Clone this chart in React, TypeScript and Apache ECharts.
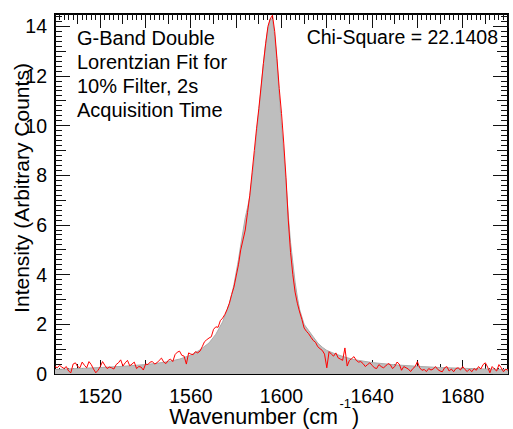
import React, { useEffect, useRef } from "react";
import * as echarts from "echarts";

// Measured spectrum: one value per wavenumber, starting at 1500 cm^-1, step 1
const measuredStart = 1500;
const measuredIntensity = [
  0.30, 0.25, 0.35, 0.28, 0.22, 0.30, 0.12, 0.05, 0.40, 0.45,
  0.30, 0.25, 0.48, 0.35, 0.25, 0.50, 0.38, 0.20, 0.05, 0.15,
  0.30, 0.50, 0.35, 0.22, 0.28, 0.25, 0.20, 0.38, 0.45, 0.57,
  0.32, 0.45, 0.55, 0.33, 0.40, 0.48, 0.22, 0.30, 0.28, 0.16,
  0.40, 0.38, 0.48, 0.50, 0.40, 0.45, 0.55, 0.64, 0.48, 0.42,
  0.55, 0.60, 0.50, 0.78, 0.88, 0.92, 0.75, 0.72, 0.40, 0.85,
  0.80, 0.78, 0.90, 0.85, 0.92, 1.10, 1.30, 1.38, 1.45, 1.50,
  1.80, 1.90, 1.88, 2.15, 2.25, 2.40, 2.60, 2.85, 3.20, 3.50,
  3.95, 4.40, 5.00, 5.40, 5.80, 6.50, 7.20, 8.10, 9.00, 9.90,
  10.70, 11.60, 12.50, 13.30, 14.00, 14.30, 14.45, 13.80, 12.70, 11.50,
  10.50, 9.30, 7.90, 6.20, 4.90, 4.00, 3.30, 2.85, 2.50, 2.20,
  1.85, 1.72, 1.62, 1.48, 1.35, 1.28, 1.10, 1.02, 0.95, 0.80,
  0.25, 0.90, 0.80, 0.72, 0.85, 0.65, 0.60, 0.55, 1.05, 0.32,
  0.55, 0.62, 0.70, 0.55, 0.48, 0.50, 0.42, 0.30, 0.38, 0.45,
  0.35, 0.25, 0.22, 0.38, 0.30, 0.25, 0.32, 0.42, 0.38, 0.22,
  0.30, 0.48, 0.40, 0.15, 0.30, 0.25, 0.20, 0.10, 0.22, 0.30,
  0.50, 0.25, 0.15, 0.18, 0.10, 0.22, 0.16, 0.20, 0.30, 0.18,
  0.12, 0.09, 0.25, 0.30, 0.12, 0.20, 0.09, 0.22, 0.25, 0.16,
  0.30, 0.18, 0.10, 0.20, 0.09, 0.22, 0.15, 0.30, 0.20, 0.38,
  0.45, 0.28, 0.05, 0.30, 0.20, 0.12, 0.38, 0.25, 0.09, 0.20,
  0.15,
];

// Double Lorentzian fit (grey area)
const fitWavenumbers = [
  1500, 1510, 1520, 1530, 1540, 1545, 1550, 1555, 1560, 1564,
  1568, 1571, 1574, 1577, 1578, 1579, 1580, 1581, 1582, 1583,
  1584, 1585, 1586, 1587, 1588, 1589, 1590, 1591, 1592, 1593,
  1594, 1595, 1596, 1597, 1598, 1599, 1600, 1601, 1602, 1603,
  1604, 1605, 1606, 1607, 1608, 1609, 1610, 1612, 1614, 1616,
  1618, 1620, 1624, 1628, 1632, 1640, 1650, 1660, 1670, 1680,
  1690, 1700,
];
const fitIntensity = [
  0.18, 0.22, 0.26, 0.31, 0.38, 0.43, 0.50, 0.60, 0.76, 0.97,
  1.25, 1.60, 2.10, 2.85, 3.20, 3.60, 4.10, 4.60, 5.20, 5.75,
  6.30, 6.70, 7.15, 7.90, 8.70, 9.70, 10.60, 11.50, 12.50, 13.30,
  13.90, 14.30, 14.30, 13.60, 12.60, 11.20, 10.00, 8.90, 7.70, 6.40,
  5.30, 4.50, 3.70, 3.10, 2.60, 2.30, 2.00, 1.75, 1.50, 1.25,
  1.08, 0.95, 0.80, 0.68, 0.58, 0.46, 0.37, 0.31, 0.26, 0.23,
  0.20, 0.18,
];

const xTickLabels = [1520, 1560, 1600, 1640, 1680];
const yTickLabels = [0, 2, 4, 6, 8, 10, 12, 14];

const X_MIN = 1500;
const X_MAX = 1700;
const Y_MIN = 0;
const Y_MAX = 14.5;

const FONT = "'Liberation Sans', Arial, Helvetica, sans-serif";
const TICK = "#111";

// side: 0 bottom, 1 top, 2 left, 3 right; rank: 2 major, 1 medium, 0 minor
function buildTicks() {
  const out: number[][] = [];
  for (let v = X_MIN; v <= X_MAX; v += 2) {
    const d = v - X_MIN;
    const rank = d % 20 === 0 ? 2 : d % 10 === 0 ? 1 : 0;
    out.push([v, Y_MIN, rank, 0]);
    out.push([v, Y_MAX, rank, 1]);
  }
  for (let i = 0; i * 0.2 <= Y_MAX + 1e-9; i++) {
    const v = Math.round(i * 2) / 10;
    const rank = i % 10 === 0 ? 2 : i % 5 === 0 ? 1 : 0;
    out.push([X_MIN, v, rank, 2]);
    out.push([X_MAX, v, rank, 3]);
  }
  return out;
}

const X_LEN = [6, 10, 14];
const Y_LEN = [7, 11, 15];

export default function App() {
  const ref = useRef<HTMLDivElement>(null);

  useEffect(() => {
    if (!ref.current) return;
    const chart = echarts.init(ref.current, null, { renderer: "svg" });

    const measured = measuredIntensity.map((v, i) => [measuredStart + i, v]);
    const fit = fitWavenumbers.map((x, i) => [x, fitIntensity[i]]);

    chart.setOption({
      animation: false,
      grid: {
        left: 55,
        right: 5,
        top: 14,
        bottom: 55,
        containLabel: false,
        show: true,
        borderColor: "#000",
        borderWidth: 2,
      },
      xAxis: {
        type: "value",
        min: X_MIN,
        max: X_MAX,
        interval: 20,
        axisLine: { show: false, onZero: false },
        axisTick: { show: false },
        splitLine: { show: false },
        axisLabel: {
          margin: 12,
          fontSize: 19.5,
          color: "#000",
          fontFamily: FONT,
          formatter: (v: number) => (xTickLabels.includes(v) ? String(v) : ""),
        },
      },
      yAxis: {
        type: "value",
        min: Y_MIN,
        max: Y_MAX,
        interval: 2,
        axisLine: { show: false, onZero: false },
        axisTick: { show: false },
        splitLine: { show: false },
        axisLabel: {
          margin: 8,
          fontSize: 19.5,
          color: "#000",
          fontFamily: FONT,
          formatter: (v: number) => (yTickLabels.includes(v) ? String(v) : ""),
        },
      },
      series: [
        {
          name: "Fit",
          type: "line",
          data: fit,
          showSymbol: false,
          lineStyle: { color: "#aaaaaa", width: 1 },
          areaStyle: { color: "#bebebe", opacity: 1 },
        },
        {
          name: "Ticks",
          type: "custom",
          clip: false,
          data: buildTicks(),
          renderItem: (params: any, api: any) => {
            const p = api.coord([api.value(0), api.value(1)]);
            const rank = api.value(2);
            const side = api.value(3);
            if (side === 0) {
              const len = X_LEN[rank];
              return { type: "rect", shape: { x: Math.floor(p[0]), y: p[1] - len, width: 1, height: len }, style: { fill: TICK } };
            }
            if (side === 1) {
              const len = X_LEN[rank];
              return { type: "rect", shape: { x: Math.floor(p[0]), y: p[1], width: 1, height: len }, style: { fill: TICK } };
            }
            if (side === 2) {
              const len = Y_LEN[rank];
              return { type: "rect", shape: { x: p[0], y: Math.floor(p[1]), width: len, height: 1 }, style: { fill: TICK } };
            }
            const len = Y_LEN[rank];
            return { type: "rect", shape: { x: p[0] - len, y: Math.floor(p[1]), width: len, height: 1 }, style: { fill: TICK } };
          },
        },
        {
          name: "Data",
          type: "line",
          data: measured,
          showSymbol: false,
          lineStyle: { color: "#ff0000", width: 1 },
        },
      ],
      graphic: [
        {
          type: "text",
          x: 77,
          y: 26,
          z: 10,
          style: {
            text: "G-Band Double\nLorentzian Fit for\n10% Filter, 2s\nAcquisition Time",
            fontSize: 20,
            lineHeight: 24,
            fontFamily: FONT,
            fill: "#000",
            align: "left",
            verticalAlign: "top",
          },
        },
        {
          type: "text",
          x: 498,
          y: 37,
          z: 10,
          style: {
            text: "Chi-Square = 22.1408",
            fontSize: 19.5,
            fontFamily: FONT,
            fill: "#000",
            align: "right",
            verticalAlign: "middle",
          },
        },
        {
          type: "text",
          x: 21,
          y: 188,
          rotation: Math.PI / 2,
          z: 10,
          style: {
            text: "Intensity (Arbitrary Counts)",
            fontSize: 21,
            fontFamily: FONT,
            fill: "#000",
            align: "center",
            verticalAlign: "middle",
          },
        },
        {
          type: "text",
          x: 338,
          y: 417,
          z: 10,
          style: {
            text: "Wavenumber (cm",
            fontSize: 21.5,
            fontFamily: FONT,
            fill: "#000",
            align: "right",
            verticalAlign: "middle",
          },
        },
        {
          type: "text",
          x: 339.5,
          y: 403,
          z: 10,
          style: {
            text: "-1",
            fontSize: 13,
            fontFamily: FONT,
            fill: "#000",
            align: "left",
            verticalAlign: "middle",
          },
        },
        {
          type: "text",
          x: 352,
          y: 417,
          z: 10,
          style: {
            text: ")",
            fontSize: 21.5,
            fontFamily: FONT,
            fill: "#000",
            align: "left",
            verticalAlign: "middle",
          },
        },
      ],
    });

    return () => chart.dispose();
  }, []);

  return (
    <div
      ref={ref}
      style={{ position: "absolute", left: 0, top: 0, width: 513, height: 429, background: "#fff" }}
    />
  );
}
